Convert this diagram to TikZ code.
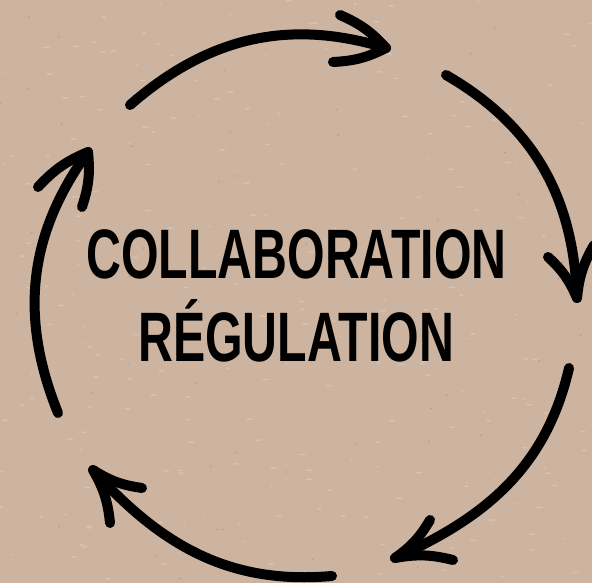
\documentclass[tikz,border=0pt]{standalone}
\usepackage{fontspec}
\newfontfamily\lblfont{Liberation Sans}[FakeStretch=0.69]
\definecolor{kraft}{RGB}{205,180,160}
\definecolor{kraftlight}{RGB}{224,206,190}
\definecolor{kraftdark}{RGB}{160,130,110}
\tikzset{
  arrowline/.style={line width=10pt, line cap=round, line join=round, black},
  headline/.style={line width=10pt, line cap=round, line join=round, black},
  label/.style={font=\lblfont\bfseries\fontsize{70}{70}\selectfont, anchor=base, inner sep=0pt, text=black}
}
\begin{document}
\begin{tikzpicture}[x=1pt,y=1pt]
\useasboundingbox (0,0) rectangle (592,583);
\clip (0,0) rectangle (592,583);
\fill[kraft] (0,0) rectangle (592,583);
\pgfmathsetseed{7}
\foreach \i in {1,...,260}{
  \pgfmathsetmacro{\px}{rnd*592}
  \pgfmathsetmacro{\py}{rnd*583}
  \pgfmathsetmacro{\pw}{1+rnd*3}
  \fill[kraftlight, opacity=0.6] (\px,\py) ellipse[x radius=\pw, y radius=0.8];
}
\foreach \i in {1,...,60}{
  \pgfmathsetmacro{\px}{rnd*592}
  \pgfmathsetmacro{\py}{rnd*583}
  \fill[kraftdark, opacity=0.5] (\px,\py) circle[radius=0.9];
}

% arrow 1 (top)
\coordinate (a1s) at (130,478);
\coordinate (a1t) at (386,535);
\coordinate (a1b) at (340,568);
\coordinate (a1c) at (333,521);
% arrow 2 (right)
\coordinate (a2s) at (446,508);
\coordinate (a2t) at (577,285);
\coordinate (a2b) at (548,326);
\coordinate (a2c) at (594,338);
% arrow 3 (lower right)
\coordinate (a3s) at (569,215);
\coordinate (a3t) at (395,25);
\coordinate (a3b) at (430,63);
\coordinate (a3c) at (453,23);
% arrow 4 (bottom)
\coordinate (a4s) at (332,7);
\coordinate (a4t) at (93,113);
\coordinate (a4b) at (142,95);
\coordinate (a4c) at (110,60);
% arrow 5 (left)
\coordinate (a5s) at (58,170);
\coordinate (a5t) at (88,431);
\coordinate (a5b) at (38,396);
\coordinate (a5c) at (82,376);

\draw[arrowline] (a1s) to[out=41,in=163] (a1t);
\draw[headline] (a1b) to[bend left=12] (a1t) to[bend left=12] (a1c);

\draw[arrowline] (a2s) to[out=-30,in=92] (a2t);
\draw[headline] (a2b) to[bend left=12] (a2t) to[bend left=12] (a2c);

\draw[arrowline] (a3s) to[out=-103,in=24] (a3t);
\draw[headline] (a3b) to[bend left=12] (a3t) to[bend left=12] (a3c);

\draw[arrowline] (a4s) to[out=-175,in=-48] (a4t);
\draw[headline] (a4b) to[bend left=12] (a4t) to[bend left=12] (a4c);

\draw[arrowline] (a5s) to[out=112,in=234] (a5t);
\draw[headline] (a5b) to[bend left=12] (a5t) to[bend left=12] (a5c);

\node[label] (t1) at (296.5,304) {COLLABORATION};
\node[label] (t2) at (296,221) {RÉGULATION};
\end{tikzpicture}
\end{document}
